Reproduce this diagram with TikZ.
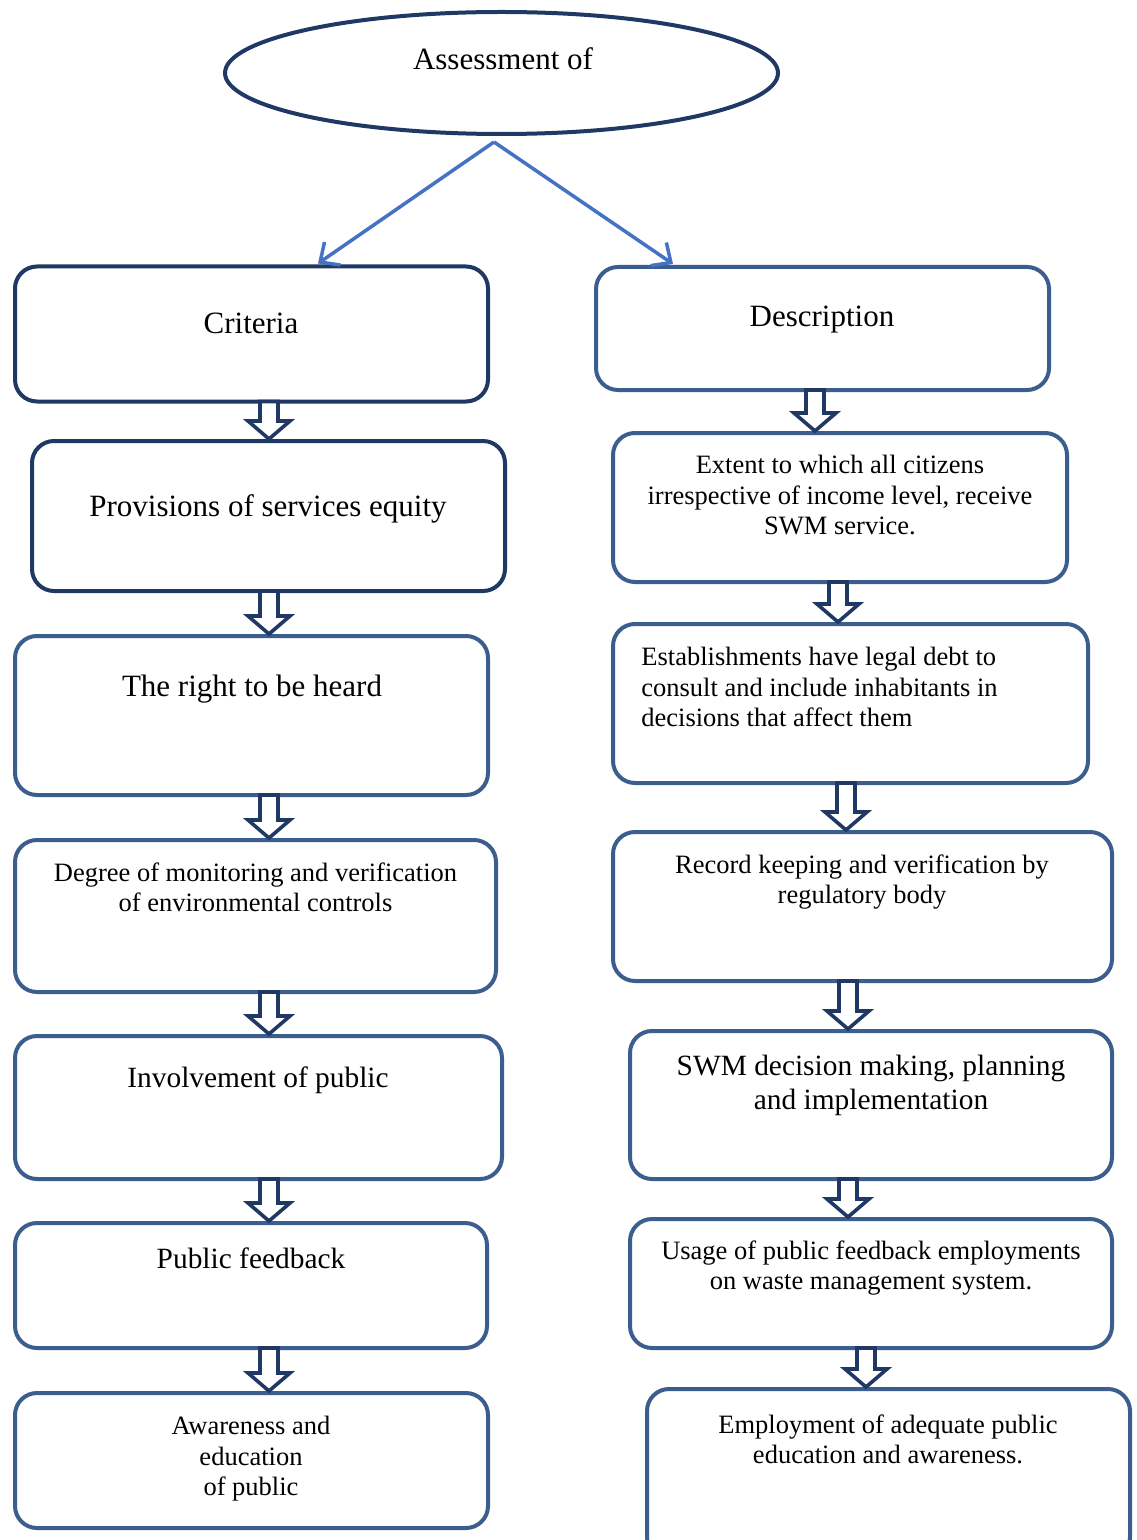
\documentclass[tikz,border=0pt]{standalone}
\usepackage{fontspec}
\setmainfont{Liberation Serif}
\usetikzlibrary{shapes.geometric,arrows.meta,calc}
\definecolor{navy}{HTML}{203864}
\definecolor{steel}{HTML}{3B5E8F}
\definecolor{linkblue}{HTML}{4472C4}
\tikzset{
  boxbase/.style={draw, rounded corners=11pt, line width=2pt, inner sep=0pt},
  darkbox/.style={boxbase, draw=navy},
  lightbox/.style={boxbase, draw=steel},
  bigtxt/.style={font=\fontsize{15.5}{17}\selectfont, inner sep=0pt, anchor=north, align=center},
  midtxt/.style={font=\fontsize{14.7}{17}\selectfont, inner sep=0pt, anchor=north, align=center},
  smalltxt/.style={font=\fontsize{13.25}{15.25}\selectfont, inner sep=0pt, anchor=north, align=center},
  link/.style={draw=linkblue, line width=1.75pt, -{Straight Barb[length=7.5pt,width=14pt]}},
  blockarr/.style={draw=navy, line width=1.8pt, fill=white, line join=miter},
}
\newcommand\boxnode[6]{%
  \node[#1, minimum width=#5*0.5pt-2pt, minimum height=#6*0.5pt-2pt] (#2) at (#3,#4) {};}
\newcommand\blockarrow[3]{%
  \draw[blockarr] let \p1=(#2.south), \p2=(#3.north), \p3=(#1,0) in
    (\x3-4.5pt,\y1+1pt) -- (\x3-4.5pt,\y2+9pt) -- (\x3-10.5pt,\y2+9pt) -- (\x3,\y2)
    -- (\x3+10.5pt,\y2+9pt) -- (\x3+4.5pt,\y2+9pt) -- (\x3+4.5pt,\y1+1pt) -- cycle;}
\begin{document}
\begin{tikzpicture}[x=0.5pt,y=-0.5pt]
\clip (0,0) rectangle (1136,1540);
\fill[white] (0,0) rectangle (1136,1540);

% top ellipse
\node[ellipse, draw=navy, line width=2pt, inner sep=0pt,
      minimum width=276.5pt, minimum height=61pt] (assess) at (501.5,73) {};
\node[bigtxt] (tassess) at (503,47) {Assessment of};

% left column boxes
\boxnode{darkbox}{crit}{251.5}{334}{477}{139}
\boxnode{darkbox}{prov}{268.5}{516}{477}{154}
\boxnode{lightbox}{heard}{251.5}{715.5}{477}{163}
\boxnode{lightbox}{degree}{255.5}{916}{485}{156}
\boxnode{lightbox}{involve}{258.5}{1107.5}{491}{147}
\boxnode{lightbox}{feedback}{251}{1285.5}{476}{129}
\boxnode{lightbox}{aware}{251.5}{1460.5}{477}{139}

% right column boxes
\boxnode{lightbox}{desc}{822.5}{328.5}{457}{127}
\boxnode{lightbox}{extent}{840}{507.5}{458}{153}
\boxnode{lightbox}{estab}{850.5}{703.5}{479}{163}
\boxnode{lightbox}{record}{862.5}{906.5}{503}{153}
\boxnode{lightbox}{swm}{871}{1105}{486}{152}
\boxnode{lightbox}{usage}{871}{1283.5}{486}{133}
\boxnode{lightbox}{employ}{888.5}{1474}{487}{174}

% texts
\node[bigtxt] (tcrit) at (251,313) {Criteria};
\node[bigtxt] (tprov) at (268,494) {Provisions of services equity};
\node[bigtxt] (theard) at (252,675) {The right to be heard};
\node[smalltxt] (tdegree) at (255.5,862) {Degree of monitoring and verification\\of environmental controls};
\node[midtxt] (tinvolve) at (258,1066) {Involvement of public};
\node[midtxt] (tfeedback) at (251,1247) {Public feedback};
\node[smalltxt] (taware) at (251,1416) {Awareness and\\education\\of public};

\node[bigtxt] (tdesc) at (822,306) {Description};
\node[smalltxt] (textent) at (840,455) {Extent to which all citizens\\irrespective of income level, receive\\SWM service.};
\node[smalltxt, anchor=north west, align=left] (testab) at (641,647) {Establishments have legal debt to\\consult and include inhabitants in\\decisions that affect them};
\node[smalltxt] (trecord) at (862,854) {Record keeping and verification by\\regulatory body};
\node[midtxt] (tswm) at (871,1055) {SWM decision making, planning\\and implementation};
\node[smalltxt] (tusage) at (871,1240) {Usage of public feedback employments\\on waste management system.};
\node[smalltxt] (temploy) at (888,1414) {Employment of adequate public\\education and awareness.};

% split connectors
\coordinate (split) at ($(assess.south)+(-7.5,6)$);
\draw[link] (split) -- ($(crit.north)+(66.5,-1)$);
\draw[link] (split) -- ($(desc.north)+(-149.5,-1)$);

% block arrows left
\blockarrow{269}{crit}{prov}
\blockarrow{269}{prov}{heard}
\blockarrow{269}{heard}{degree}
\blockarrow{269}{degree}{involve}
\blockarrow{269}{involve}{feedback}
\blockarrow{269}{feedback}{aware}

% block arrows right
\blockarrow{815}{desc}{extent}
\blockarrow{838}{extent}{estab}
\blockarrow{846}{estab}{record}
\blockarrow{848}{record}{swm}
\blockarrow{848}{swm}{usage}
\blockarrow{866}{usage}{employ}
\end{tikzpicture}
\end{document}
